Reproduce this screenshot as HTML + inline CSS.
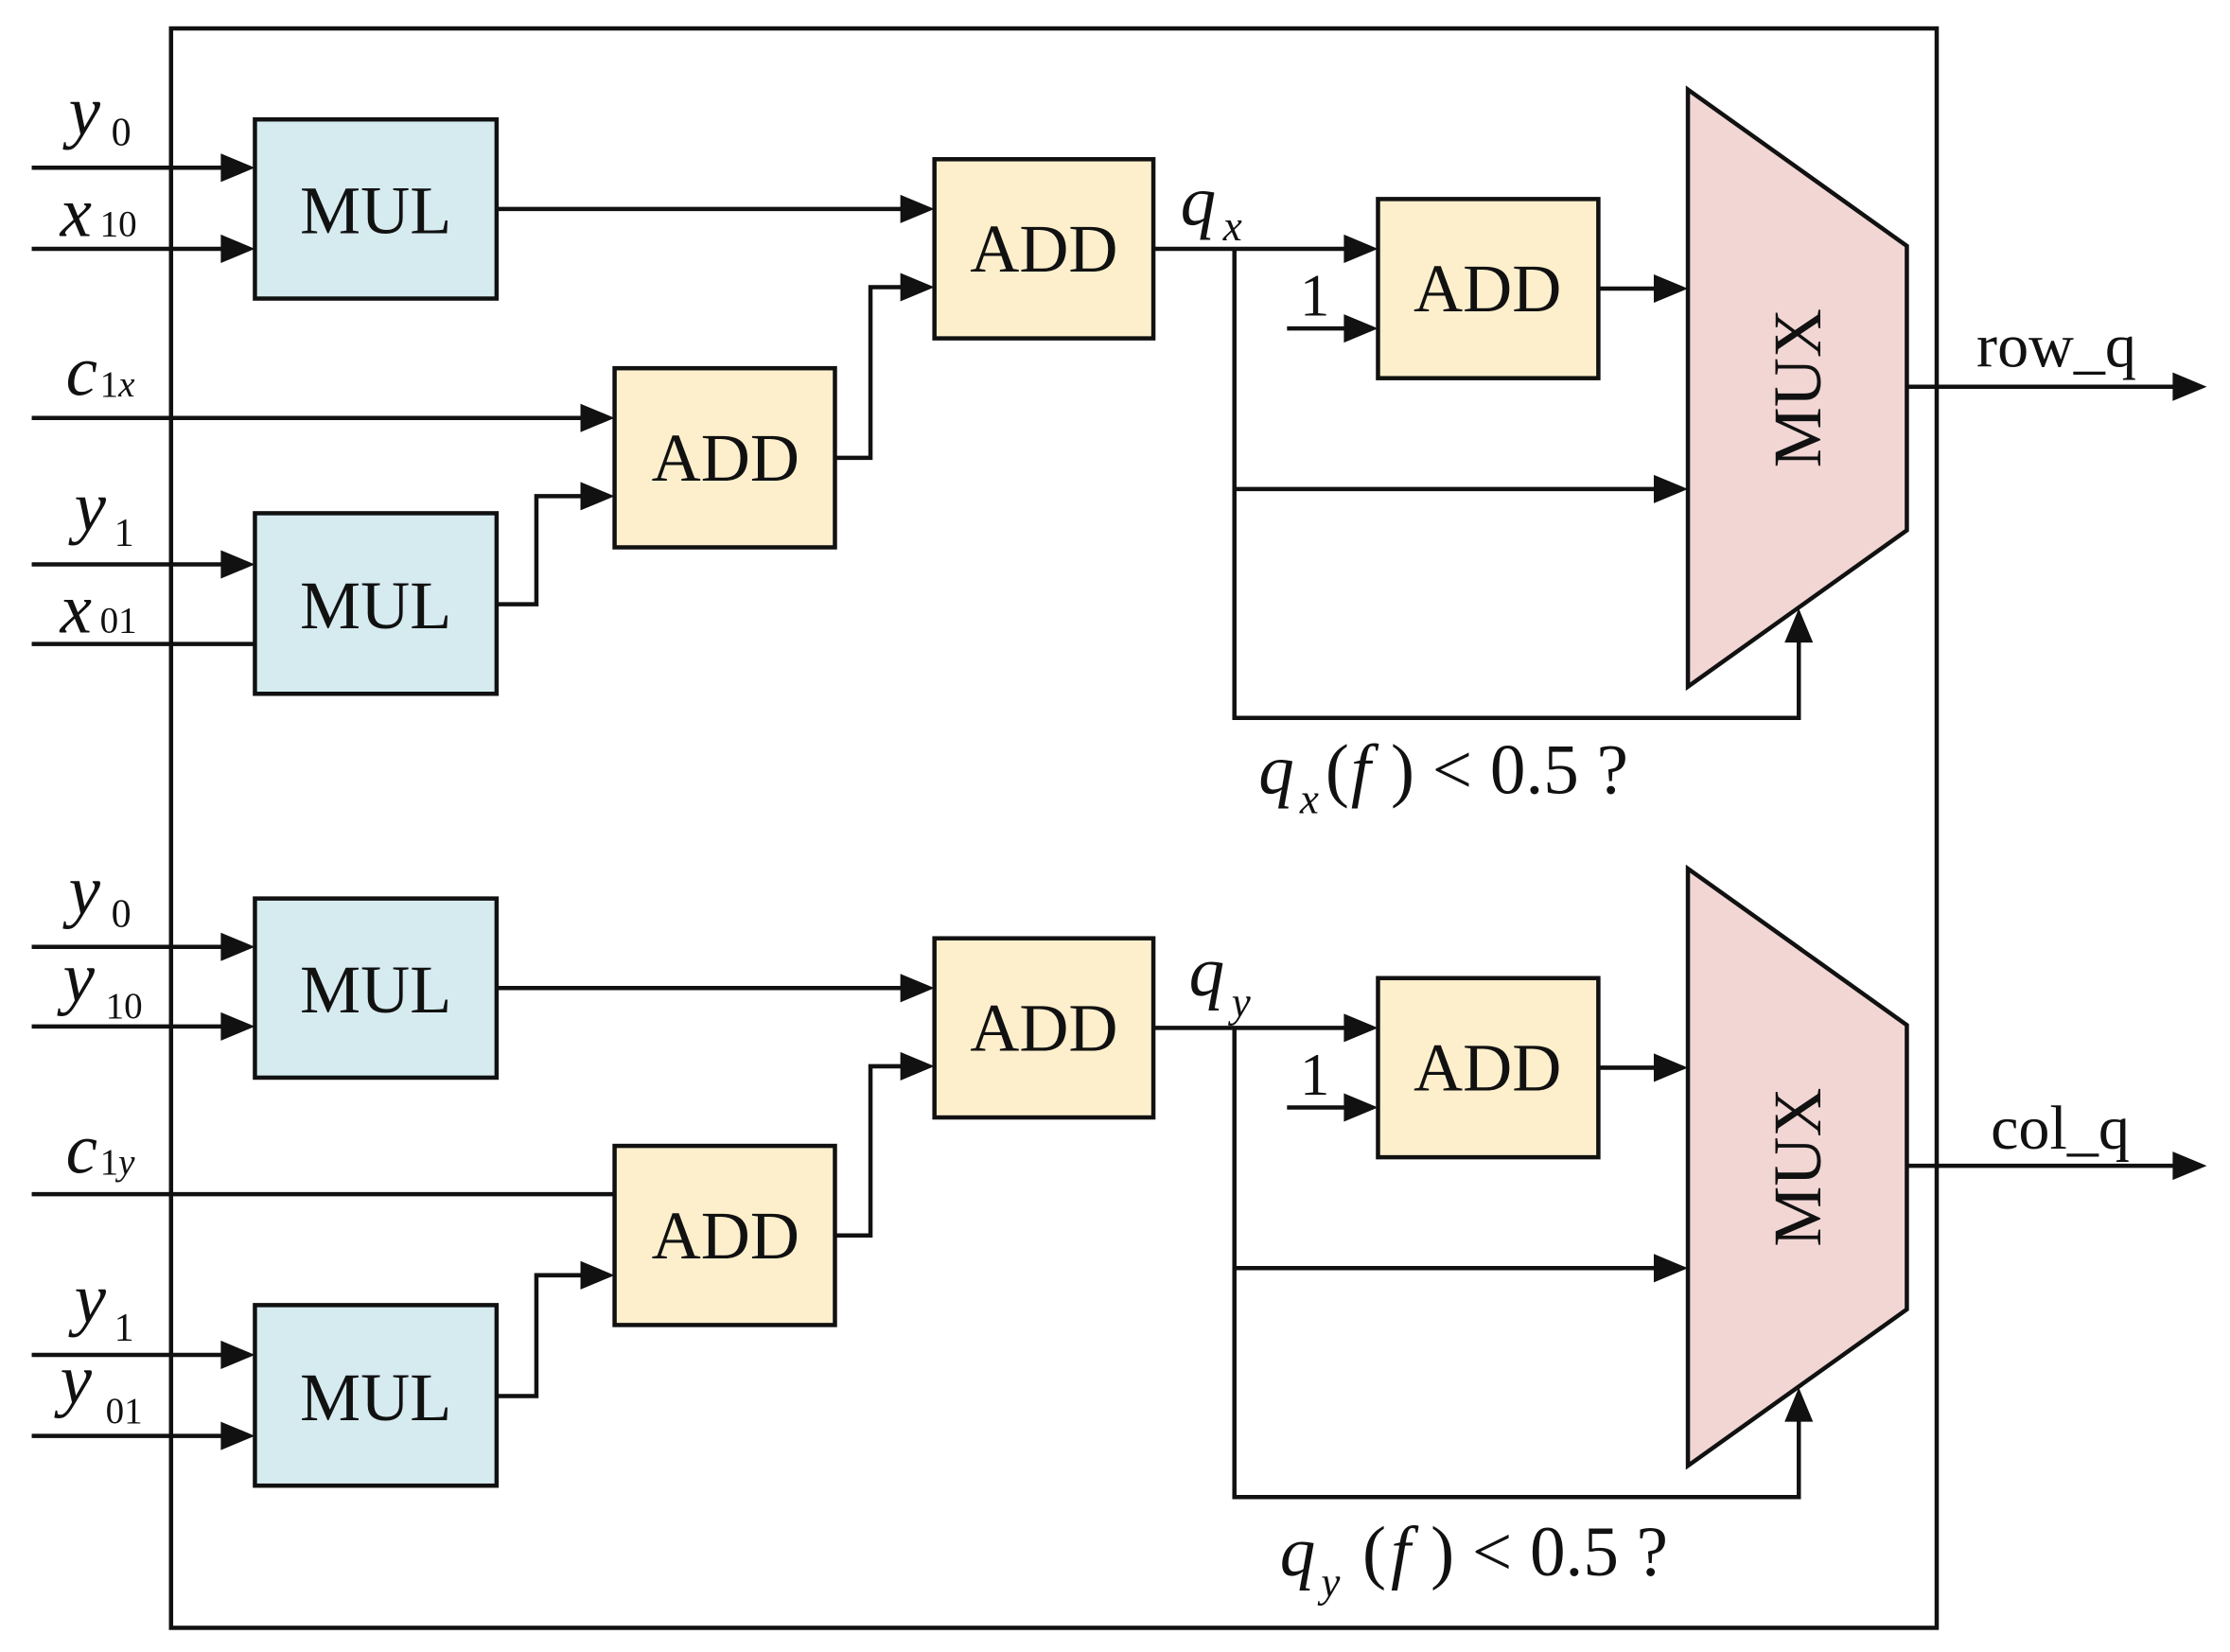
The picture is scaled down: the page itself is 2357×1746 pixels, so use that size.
<!DOCTYPE html>
<html><head><meta charset="utf-8"><style>
html,body{margin:0;padding:0;background:#fff;}
svg{display:block;}
text{font-family:"Liberation Serif",serif;fill:#111;}
.it{font-style:italic;}
</style></head><body>
<svg width="2357" height="1746" viewBox="0 0 1568 1162" xmlns="http://www.w3.org/2000/svg">
<rect x="120" y="20" width="1242" height="1125" fill="none" stroke="#111" stroke-width="3"/>
<!-- right part, shared -->
<g id="right">
<g stroke="#111" stroke-width="3" fill="none">
<rect x="657" y="112" width="154" height="126" fill="#fdefcc"/>
<rect x="969" y="140" width="155" height="126" fill="#fdefcc"/>
<polygon points="1187,63 1341,173 1341,373 1187,483" fill="#f1d6d4"/>
<polyline points="349,147 638,147"/>
<polyline points="811,175 950,175"/>
<polyline points="868,175 868,505 1265,505 1265,447"/>
<polyline points="868,344 1168,344"/>
<polyline points="905,231 950,231"/>
<polyline points="1124,203 1168,203"/>
<polyline points="1341,272 1533,272"/>
</g>
<g fill="#111">
<polygon points="657,147 633,137 633,157"/>
<polygon points="969,175 945,165 945,185"/>
<polygon points="969,231 945,221 945,241"/>
<polygon points="1187,344 1163,334 1163,354"/>
<polygon points="1187,203 1163,193 1163,213"/>
<polygon points="1265,428 1255,452 1275,452"/>
<polygon points="1552,272 1528,262 1528,282"/>
</g>
<g font-size="48" text-anchor="middle">
<text x="734" y="191">ADD</text>
<text x="1046" y="219">ADD</text>
<text transform="translate(1280,273) rotate(-90)">MUX</text>
</g>
<text x="914" y="222" font-size="42">1</text>
</g>
<g transform="translate(0,548)"><use href="#right"/></g>

<!-- top left -->
<g stroke="#111" stroke-width="3" fill="none">
<rect x="179" y="84" width="170" height="126" fill="#d5ebf0"/>
<rect x="179" y="361" width="170" height="127" fill="#d5ebf0"/>
<rect x="432" y="259" width="155" height="126" fill="#fdefcc"/>
<polyline points="22,118 160,118"/>
<polyline points="22,175 160,175"/>
<polyline points="22,294 413,294"/>
<polyline points="22,397 160,397"/>
<polyline points="22,453 179,453"/>
<polyline points="349,425 377,425 377,349 413,349"/>
<polyline points="587,322 612,322 612,202 638,202"/>
<!-- bottom left -->
<rect x="179" y="632" width="170" height="126" fill="#d5ebf0"/>
<rect x="179" y="918" width="170" height="127" fill="#d5ebf0"/>
<rect x="432" y="806" width="155" height="126" fill="#fdefcc"/>
<polyline points="22,666 160,666"/>
<polyline points="22,722 160,722"/>
<polyline points="22,840 432,840"/>
<polyline points="22,953 160,953"/>
<polyline points="22,1010 160,1010"/>
<polyline points="349,982 377,982 377,897 413,897"/>
<polyline points="587,869 612,869 612,750 638,750"/>
</g>
<g fill="#111">
<polygon points="179,118 155,108 155,128"/>
<polygon points="179,175 155,165 155,185"/>
<polygon points="432,294 408,284 408,304"/>
<polygon points="179,397 155,387 155,407"/>
<polygon points="432,349 408,339 408,359"/>
<polygon points="657,202 633,192 633,212"/>
<polygon points="179,666 155,656 155,676"/>
<polygon points="179,722 155,712 155,732"/>
<polygon points="179,953 155,943 155,963"/>
<polygon points="179,1010 155,1000 155,1020"/>
<polygon points="432,897 408,887 408,907"/>
<polygon points="657,750 633,740 633,760"/>
</g>
<g font-size="48" text-anchor="middle">
<text x="264" y="164">MUL</text>
<text x="264" y="442">MUL</text>
<text x="510" y="338">ADD</text>
<text x="264" y="712">MUL</text>
<text x="264" y="999">MUL</text>
<text x="510" y="885">ADD</text>
</g>
<g font-size="50">
<text class="it" x="48" y="95">y</text><text x="78" y="102" font-size="28">0</text>
<text class="it" x="42" y="166">x</text><text x="70" y="166" font-size="26">10</text>
<text class="it" x="46" y="278">c</text><text x="70" y="279" font-size="26">1<tspan font-style="italic">x</tspan></text>
<text class="it" x="52" y="373">y</text><text x="80" y="384" font-size="28">1</text>
<text class="it" x="42" y="445">x</text><text x="70" y="445" font-size="26">01</text>
<text class="it" x="830" y="158">q</text><text class="it" x="860" y="169" font-size="30">x</text>
<text x="1390" y="258" font-size="44">row_q</text>
<text class="it" x="885" y="558">q</text><text class="it" x="914" y="572" font-size="30">x</text><text x="932" y="558">(</text><text class="it" x="950" y="558">f</text><text x="978" y="558">) &lt; 0.5 ?</text>

<text class="it" x="48" y="643">y</text><text x="78" y="652" font-size="28">0</text>
<text class="it" x="44" y="704">y</text><text x="74" y="716" font-size="26">10</text>
<text class="it" x="46" y="825">c</text><text x="70" y="826" font-size="26">1<tspan font-style="italic">y</tspan></text>
<text class="it" x="52" y="930">y</text><text x="80" y="943" font-size="28">1</text>
<text class="it" x="42" y="987">y</text><text x="74" y="1001" font-size="26">01</text>
<text class="it" x="836" y="700">q</text><text class="it" x="866" y="715" font-size="30">y</text>
<text x="1400" y="808" font-size="44">col_q</text>
<text class="it" x="900" y="1108">q</text><text class="it" x="929" y="1123" font-size="30">y</text><text x="958" y="1108">(</text><text class="it" x="978" y="1108">f</text><text x="1006" y="1108">) &lt; 0.5 ?</text>
</g>
</svg>
</body></html>
